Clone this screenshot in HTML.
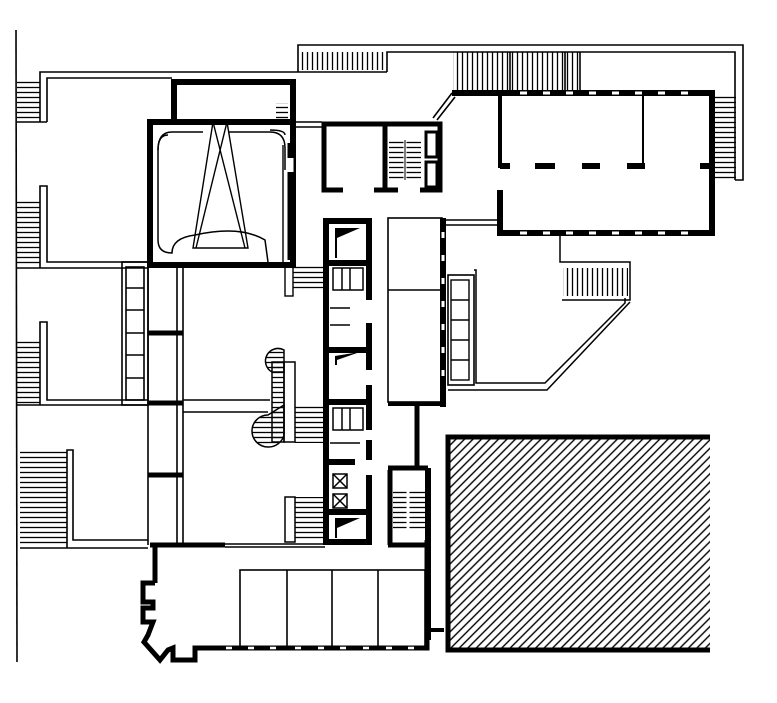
<!DOCTYPE html>
<html><head><meta charset="utf-8"><style>
html,body{margin:0;padding:0;background:#fff;}
svg{display:block;}
</style></head><body>
<svg width="777" height="703" viewBox="0 0 777 703" xmlns="http://www.w3.org/2000/svg">
<defs>
<pattern id="hs" width="6" height="5" patternUnits="userSpaceOnUse"><line x1="0" y1="2.5" x2="6" y2="2.5" stroke="#000" stroke-width="1.3"/></pattern>
<pattern id="vs" width="5" height="6" patternUnits="userSpaceOnUse"><line x1="2.5" y1="0" x2="2.5" y2="6" stroke="#000" stroke-width="1.3"/></pattern>
<pattern id="diag" width="6" height="6" patternUnits="userSpaceOnUse" patternTransform="rotate(-45)"><line x1="0" y1="3" x2="6" y2="3" stroke="#000" stroke-width="1.4"/></pattern>
</defs>
<g fill="none" stroke="#000" stroke-width="1.6">
<!-- left site line -->
<line x1="16" y1="30" x2="17" y2="662"/>
<!-- left stairs -->
<rect x="17" y="80" width="23" height="42" fill="url(#hs)" stroke="none"/>
<rect x="17" y="200" width="23" height="65" fill="url(#hs)" stroke="none"/>
<rect x="17" y="340" width="23" height="65" fill="url(#hs)" stroke="none"/>
<rect x="20" y="450" width="47" height="96" fill="url(#hs)" stroke="none"/>
<!-- top wall double line -->
<polyline points="40,122 40,72 387,72"/>
<polyline points="47,122 47,78 172,78"/>
<line x1="17" y1="122" x2="47" y2="122"/>
<polyline points="40,268 40,186 47,186 47,262 148,262"/>
<line x1="17" y1="268" x2="148" y2="268"/>
<polyline points="40,405 40,322 47,322 47,400 148,400"/>
<line x1="17" y1="405" x2="148" y2="405"/>
<polyline points="67,548 67,450 73,450 73,540 148,540"/>
<line x1="20" y1="548" x2="148" y2="548"/>
<!-- top right outline -->
<polyline points="298,72 298,45 743,45 743,180 735,180"/>
<polyline points="387,72 387,52 735,52 735,180"/>
<rect x="300" y="52" width="85" height="18" fill="url(#vs)" stroke="none"/>
<rect x="453" y="52" width="127" height="40" fill="url(#vs)" stroke="none"/>
<line x1="580" y1="52" x2="580" y2="92"/>
<line x1="510" y1="52" x2="510" y2="92"/>
<line x1="565" y1="52" x2="565" y2="92"/>
<rect x="713" y="95" width="23" height="85" fill="url(#hs)" stroke="none"/>
<line x1="295" y1="122" x2="322" y2="122"/>
<line x1="295" y1="127" x2="322" y2="127"/>
<!-- diagonal to hall -->
<line x1="452" y1="93" x2="433" y2="118"/>
<line x1="455" y1="97" x2="437" y2="120"/>
<line x1="444" y1="220" x2="500" y2="220"/>
<line x1="444" y1="225" x2="500" y2="225"/>
</g>
<!-- auditorium -->
<g fill="none" stroke="#000">
<rect x="150" y="122" width="143" height="143" stroke-width="6"/>
<polyline points="174,122 174,82 293,82 293,122" stroke-width="6"/>
<path d="M168,135 Q158,135 158,150 L158,240 Q158,253 172,253 Q172,238 195,235 Q240,225 265,240 L268,262" stroke-width="1.5"/>
<path d="M285,135 Q285,130 270,130 M158,150 Q158,132 172,132 L203,132 M228,132 L270,132 Q285,132 285,148 L285,170" stroke-width="1.5"/>
<polygon points="213,122 193,248 248,248 227,122" stroke-width="1.4"/>
<line x1="213" y1="122" x2="245" y2="248" stroke-width="1.4"/>
<line x1="227" y1="122" x2="196" y2="248" stroke-width="1.4"/>
<rect x="276" y="103" width="12" height="20" fill="url(#hs)" stroke="none"/>
<line x1="290" y1="143" x2="290" y2="260" stroke-width="5"/>
<line x1="290" y1="158" x2="290" y2="172" stroke="#fff" stroke-width="7"/>
<line x1="283" y1="145" x2="283" y2="262" stroke-width="1.4"/>
</g>
<!-- stairs near auditorium bottom -->
<rect x="293" y="266" width="30" height="24" fill="url(#hs)"/>
<rect x="285" y="266" width="8" height="30" fill="none" stroke="#000" stroke-width="1.4"/>
<!-- windows column left -->
<g fill="none" stroke="#000" stroke-width="1.6">
<rect x="122" y="262" width="26" height="143"/>
<rect x="126" y="267" width="18" height="133"/>
<line x1="126" y1="288" x2="144" y2="288"/><line x1="126" y1="310" x2="144" y2="310"/><line x1="126" y1="333" x2="144" y2="333"/><line x1="126" y1="355" x2="144" y2="355"/><line x1="126" y1="378" x2="144" y2="378"/>
<line x1="148" y1="265" x2="148" y2="545"/>
<line x1="177" y1="265" x2="177" y2="545"/>
<line x1="183" y1="265" x2="183" y2="545"/>
<line x1="183" y1="400" x2="270" y2="400"/>
<line x1="183" y1="412" x2="268" y2="412"/>
</g>
<g stroke="#000" stroke-width="5">
<line x1="148" y1="333" x2="183" y2="333"/>
<line x1="148" y1="403" x2="183" y2="403"/>
<line x1="148" y1="475" x2="183" y2="475"/>
</g>
<!-- spiral stair -->
<g fill="none" stroke="#000" stroke-width="1.5">
<rect x="272" y="362" width="12" height="80" fill="url(#hs)"/>
<path d="M272,372 A12,12 0 0 1 284,350 L284,372 Z" fill="url(#hs)"/>
<path d="M268,415 A16,16 0 0 0 268,447 A16,16 0 0 0 284,435 L284,405 Z" fill="url(#hs)"/>
<rect x="284" y="362" width="11" height="80"/>
<rect x="295" y="405" width="28" height="38" fill="url(#hs)" stroke="none"/>
<rect x="295" y="497" width="28" height="42" fill="url(#hs)" stroke="none"/>
<rect x="285" y="497" width="10" height="45"/>
</g>
<!-- top middle box -->
<g fill="none" stroke="#000" stroke-width="5">
<polyline points="343,190 324,190 324,124 440,124 440,190 420,190"/>
<line x1="374" y1="190" x2="398" y2="190"/>
<line x1="385" y1="124" x2="385" y2="190"/>
<rect x="426" y="132" width="11" height="25" stroke-width="3"/>
<rect x="426" y="162" width="11" height="25" stroke-width="3"/>
</g>
<rect x="389" y="140" width="32" height="40" fill="url(#hs)"/>
<line x1="405" y1="140" x2="405" y2="180" stroke="#fff" stroke-width="3"/>
<line x1="405" y1="140" x2="405" y2="180" stroke="#000" stroke-width="1"/>
<!-- central core -->
<g fill="none" stroke="#000" stroke-width="6">
<line x1="326" y1="218" x2="326" y2="545"/>
<polyline points="323,221 369,221 369,300"/>
<line x1="369" y1="323" x2="369" y2="370"/>
<line x1="369" y1="385" x2="369" y2="430"/>
<line x1="369" y1="440" x2="369" y2="460"/>
<polyline points="369,475 369,542 326,542"/>
<line x1="326" y1="263" x2="369" y2="263"/>
<line x1="326" y1="350" x2="369" y2="350"/>
<line x1="326" y1="402" x2="369" y2="402"/>
<line x1="326" y1="462" x2="355" y2="462"/>
<line x1="326" y1="512" x2="369" y2="512"/>
</g>
<g fill="#000">
<polygon points="335,228 360,228 337,238 337,258 335,258"/>
<polygon points="335,356 360,352 337,360 337,365 335,365"/>
<polygon points="335,518 360,518 337,528 337,538 335,538"/>
</g>
<g fill="none" stroke="#000" stroke-width="1.5">
<rect x="333" y="268" width="30" height="22"/><line x1="342" y1="268" x2="342" y2="290"/><line x1="350" y1="268" x2="350" y2="290"/>
<line x1="330" y1="308" x2="350" y2="308"/><line x1="330" y1="325" x2="350" y2="325"/>
<rect x="333" y="408" width="30" height="22"/><line x1="342" y1="408" x2="342" y2="430"/><line x1="350" y1="408" x2="350" y2="430"/>
<line x1="330" y1="443" x2="360" y2="443"/>
<rect x="333" y="474" width="14" height="14"/><line x1="333" y1="474" x2="347" y2="488"/><line x1="347" y1="474" x2="333" y2="488"/>
<rect x="333" y="494" width="14" height="14"/><line x1="333" y1="494" x2="347" y2="508"/><line x1="347" y1="494" x2="333" y2="508"/>
</g>
<!-- right block -->
<g fill="none" stroke="#000">
<rect x="388" y="218" width="54" height="184" stroke-width="1.6"/>
<line x1="388" y1="290" x2="442" y2="290" stroke-width="1.6"/>
<line x1="443" y1="218" x2="443" y2="407" stroke-width="6"/>
<line x1="388" y1="404" x2="446" y2="404" stroke-width="4"/>
<rect x="448" y="275" width="26" height="110" stroke-width="1.6"/>
<rect x="451" y="280" width="18" height="100" stroke-width="1.4"/>
<line x1="451" y1="300" x2="469" y2="300" stroke-width="1.4"/><line x1="451" y1="320" x2="469" y2="320" stroke-width="1.4"/><line x1="451" y1="340" x2="469" y2="340" stroke-width="1.4"/><line x1="451" y1="360" x2="469" y2="360" stroke-width="1.4"/>
<polyline points="474,270 476,270 476,383 545,383 625,303 625,298" stroke-width="1.5"/>
<polyline points="448,390 547,390 630,302" stroke-width="1.5"/>
<polyline points="560,233 560,262 630,262 630,300 562,300" stroke-width="1.5"/>
<rect x="563" y="268" width="65" height="28" fill="url(#vs)" stroke="none"/>
<!-- corridor wall -->
<line x1="417" y1="404" x2="417" y2="468" stroke-width="5"/>
<line x1="388" y1="468" x2="428" y2="468" stroke-width="5"/>
<line x1="428" y1="468" x2="428" y2="640" stroke-width="6"/>
<line x1="390" y1="470" x2="390" y2="545" stroke-width="5"/>
<line x1="388" y1="545" x2="428" y2="545" stroke-width="5"/>
<line x1="428" y1="630" x2="444" y2="630" stroke-width="4"/>
</g>
<rect x="393" y="490" width="32" height="40" fill="url(#hs)"/>
<line x1="408" y1="490" x2="408" y2="530" stroke="#fff" stroke-width="3"/>
<!-- hall -->
<g fill="none" stroke="#000">
<polyline points="452,93 712,93 712,233 500,233 500,190" stroke-width="6"/>
<line x1="500" y1="95" x2="500" y2="168" stroke-width="4"/>
<line x1="643" y1="95" x2="643" y2="168" stroke-width="2"/>
<g stroke-width="6">
<line x1="500" y1="166" x2="510" y2="166"/><line x1="535" y1="166" x2="555" y2="166"/><line x1="582" y1="166" x2="600" y2="166"/><line x1="627" y1="166" x2="645" y2="166"/><line x1="700" y1="166" x2="712" y2="166"/>
</g>
<g stroke="#fff" stroke-width="3">
<line x1="520" y1="93" x2="527" y2="93"/><line x1="543" y1="93" x2="550" y2="93"/><line x1="566" y1="93" x2="573" y2="93"/><line x1="589" y1="93" x2="596" y2="93"/><line x1="612" y1="93" x2="619" y2="93"/><line x1="635" y1="93" x2="642" y2="93"/><line x1="658" y1="93" x2="665" y2="93"/><line x1="681" y1="93" x2="688" y2="93"/>
<line x1="520" y1="233" x2="527" y2="233"/><line x1="543" y1="233" x2="550" y2="233"/><line x1="566" y1="233" x2="573" y2="233"/><line x1="589" y1="233" x2="596" y2="233"/><line x1="612" y1="233" x2="619" y2="233"/><line x1="635" y1="233" x2="642" y2="233"/><line x1="658" y1="233" x2="665" y2="233"/><line x1="681" y1="233" x2="688" y2="233"/>
<line x1="443" y1="232" x2="443" y2="238"/><line x1="443" y1="255" x2="443" y2="261"/><line x1="443" y1="278" x2="443" y2="284"/><line x1="443" y1="301" x2="443" y2="307"/><line x1="443" y1="324" x2="443" y2="330"/><line x1="443" y1="347" x2="443" y2="353"/><line x1="443" y1="370" x2="443" y2="376"/>
</g>
</g>
<!-- hatched rect -->
<rect x="448" y="437" width="262" height="213" fill="url(#diag)"/>
<polyline points="710,437 448,437 448,650 710,650" fill="none" stroke="#000" stroke-width="5"/>
<!-- bottom building -->
<g fill="none" stroke="#000">
<line x1="150" y1="545" x2="225" y2="545" stroke-width="5"/>
<line x1="225" y1="544" x2="325" y2="544" stroke-width="1.5"/>
<line x1="225" y1="547" x2="325" y2="547" stroke-width="1.5"/>
<line x1="155" y1="543" x2="155" y2="583" stroke-width="5"/>
<polyline points="155,583 143,583 143,602 153,602 153,608 143,608 143,622 153,622 148,635 144,642 160,660 168,650 173,648 173,660 195,660 195,648 427,648 427,540" stroke-width="5"/>
<rect x="240" y="570" width="185" height="78" stroke-width="1.6"/>
<line x1="287" y1="570" x2="287" y2="648" stroke-width="1.6"/>
<line x1="332" y1="570" x2="332" y2="648" stroke-width="1.6"/>
<line x1="378" y1="570" x2="378" y2="648" stroke-width="1.6"/>
<g stroke="#fff" stroke-width="2.5">
<line x1="226" y1="648" x2="232" y2="648"/><line x1="248" y1="648" x2="254" y2="648"/><line x1="270" y1="648" x2="276" y2="648"/><line x1="295" y1="648" x2="301" y2="648"/><line x1="318" y1="648" x2="324" y2="648"/><line x1="340" y1="648" x2="346" y2="648"/><line x1="363" y1="648" x2="369" y2="648"/><line x1="386" y1="648" x2="392" y2="648"/><line x1="408" y1="648" x2="414" y2="648"/>
</g>
</g>
</svg>
</body></html>
